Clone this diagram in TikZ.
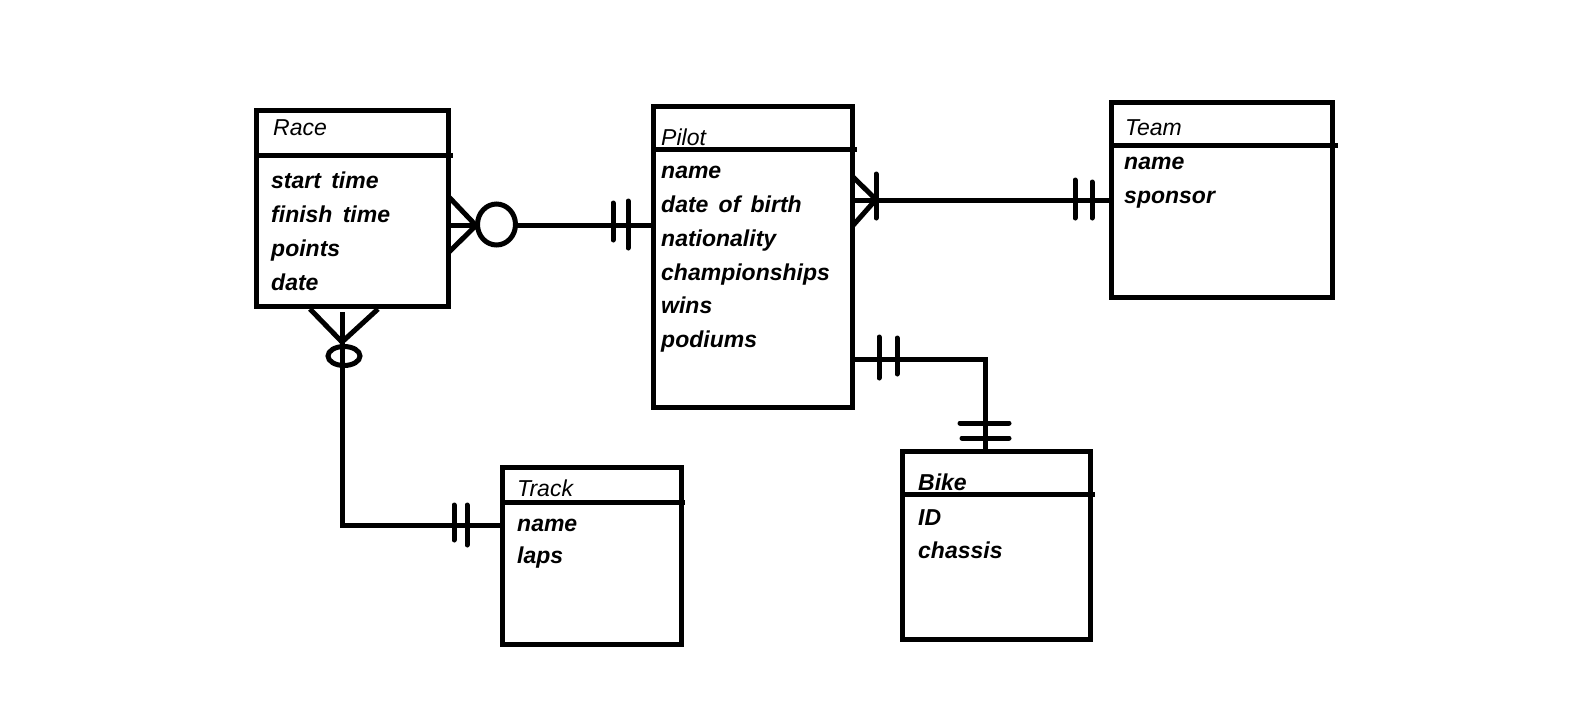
\documentclass[tikz,border=0pt]{standalone}
\usepackage{fontspec}
\setmainfont{Liberation Sans}[WordSpace=1.6]
\begin{document}
\begin{tikzpicture}[x=1pt,y=-1pt,
  ebox/.style={draw, line width=5pt, rectangle, inner sep=0pt, outer sep=0pt},
  rel/.style={line width=5pt},
  hline/.style={line width=5pt},
  barmark/.style={line width=5pt, line cap=round},
  hdr/.style={anchor=base west, inner sep=0pt, font=\fontsize{23}{27}\selectfont\itshape},
  att/.style={anchor=base west, inner sep=0pt, font=\fontsize{23}{27}\selectfont\bfseries\itshape},
]
\useasboundingbox (0,0) rectangle (1588,724);
\fill[white] (0,0) rectangle (1588,724);

% entity boxes
\node[ebox, minimum width=191.5pt, minimum height=196pt] (race) at (352.25,208.5) {};
\node[ebox, minimum width=199pt, minimum height=301pt] (pilot) at (753,256.5) {};
\node[ebox, minimum width=221pt, minimum height=195pt] (team) at (1221.5,199.5) {};
\node[ebox, minimum width=179pt, minimum height=177pt] (track) at (592,556) {};
\node[ebox, minimum width=188pt, minimum height=188pt] (bike) at (996,545) {};

% header separators
\draw[hline] (race.west |- 0,155) -- (453,155);
\draw[hline] (pilot.west |- 0,149) -- (857,149);
\draw[hline] (team.west |- 0,145) -- (1338,145);
\draw[hline] (track.west |- 0,502) -- (685,502);
\draw[hline] (bike.west |- 0,494) -- (1095,494);

% texts
\node[hdr] (tRace) at (273,135) {Race};
\node[att] (a1) at (271,188) {start time};
\node[att] (a2) at (271,222) {finish time};
\node[att] (a3) at (271,256) {points};
\node[att] (a4) at (271,290) {date};

\node[hdr] (tPilot) at (661,145) {Pilot};
\node[att] (p1) at (661,178) {name};
\node[att] (p2) at (661,212) {date of birth};
\node[att] (p3) at (661,246) {nationality};
\node[att] (p4) at (661,280) {championships};
\node[att] (p5) at (661,313) {wins};
\node[att] (p6) at (661,347) {podiums};

\node[hdr] (tTeam) at (1125,135) {Team};
\node[att] (t1) at (1124,169) {name};
\node[att] (t2) at (1124,203) {sponsor};

\node[hdr] (tTrack) at (517,496) {Track};
\node[att] (k1) at (517,531) {name};
\node[att] (k2) at (517,563) {laps};

\node[hdr, font=\fontsize{23}{27}\selectfont\bfseries\itshape] (tBike) at (918,490) {Bike};
\node[att] (b1) at (918,525) {ID};
\node[att] (b2) at (918,558) {chassis};

% Race -- Pilot
\coordinate (rp) at (0,225.5);
\coordinate (rpO) at (496.5,224.5);
\draw[rel] (race.east |- rp) -- (477,225.5);
\draw[rel] (516,225.5) -- (pilot.west |- rp);
\draw[rel] (race.east |- 0,196) -- (476,225.5) -- (race.east |- 0,253);
\draw[rel] (rpO) ellipse [x radius=19pt, y radius=20.5pt];
\draw[barmark] (613,203) -- (613,240);
\draw[barmark] (628,201) -- (628,248);

% Race -- Track
\coordinate (rtC) at (342,525);
\draw[rel] (342,312) -- (rtC) -- (track.west |- rtC);
\draw[rel] (310,309) -- (342,342) -- (378,309);
\draw[rel] (344,356) ellipse [x radius=16pt, y radius=9.5pt];
\draw[barmark] (454,505) -- (454,540);
\draw[barmark] (467,505) -- (467,545);

% Pilot -- Team
\coordinate (pt) at (0,200);
\draw[rel] (pilot.east |- pt) -- (team.west |- pt);
\draw[rel] (pilot.east |- 0,176.5) -- (876,199.5) -- (pilot.east |- 0,226);
\draw[barmark] (876,174) -- (876,218);
\draw[barmark] (1075,180) -- (1075,218);
\draw[barmark] (1092,182) -- (1092,218);

% Pilot -- Bike
\coordinate (pbC) at (985,359);
\draw[rel] (pilot.east |- pbC) -- (pbC) -- (bike.north -| pbC);
\draw[barmark] (879,337) -- (879,378);
\draw[barmark] (897,338) -- (897,374);
\draw[barmark] (960,423) -- (1009,423);
\draw[barmark] (962,438) -- (1009,438);
\end{tikzpicture}
\end{document}
